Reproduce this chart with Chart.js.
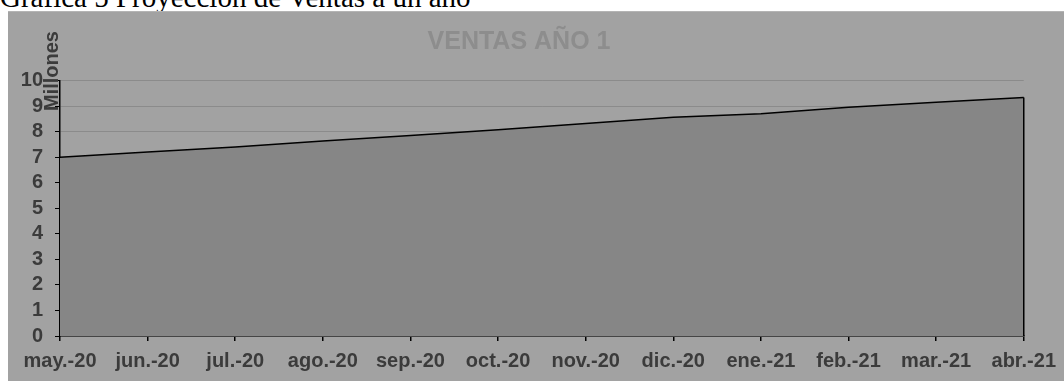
<!DOCTYPE html>
<html lang="es">
<head>
<meta charset="utf-8">
<title>Proyección de Ventas</title>
<script src="https://cdn.jsdelivr.net/npm/chart.js@4.4.1/dist/chart.umd.min.js"></script>
<style>
  html, body { margin: 0; padding: 0; background: #ffffff; overflow: hidden; }
  body { width: 1064px; height: 381px; position: relative; }
  .caption {
    position: absolute; left: 0; top: -17px;
    font-family: "Liberation Serif", "Times New Roman", serif;
    font-size: 29px; line-height: 29px; color: #000; white-space: nowrap;
  }
  .box {
    position: absolute; left: 8px; top: 11px; width: 1056px; height: 370px;
    background: #a2a2a2; border-top: 1px solid #b4b4b4; box-sizing: border-box;
  }
</style>
</head>
<body>
<div class="caption">Gráfica 5 Proyección de Ventas a un año</div>
<div class="box"><canvas id="ventas"></canvas></div>
<script>
// Ventas mensuales proyectadas (millones)
const meses = ['may.-20', 'jun.-20', 'jul.-20', 'ago.-20', 'sep.-20', 'oct.-20',
               'nov.-20', 'dic.-20', 'ene.-21', 'feb.-21', 'mar.-21', 'abr.-21'];
const ventas = [7.0, 7.2, 7.4, 7.63, 7.85, 8.07, 8.32, 8.56, 8.7, 8.95, 9.15, 9.33];
const ticksY = [0, 1, 2, 3, 4, 5, 6, 7, 8, 9, 10];

const textoEje = '#3b3b3b';
const fuente = '"Liberation Sans", Arial, sans-serif';

// Cierra el área con un trazo vertical en el último mes y rotula la unidad del eje
const bordeArea = {
  id: 'bordeArea',
  afterDatasetsDraw(chart) {
    const meta = chart.getDatasetMeta(0);
    const ult = meta.data[meta.data.length - 1];
    const base = chart.scales.y.getPixelForValue(0);
    const ctx = chart.ctx;
    ctx.save();
    ctx.strokeStyle = '#000';
    ctx.lineWidth = 1.5;
    ctx.beginPath();
    ctx.moveTo(ult.x, ult.y);
    ctx.lineTo(ult.x, base);
    ctx.stroke();
    ctx.restore();
  },
  afterDraw(chart) {
    const ctx = chart.ctx;
    const y = chart.scales.y;
    ctx.save();
    ctx.translate(y.right - 8, y.getPixelForValue(10.37));
    ctx.rotate(-Math.PI / 2);
    ctx.font = 'bold 20px ' + fuente;
    ctx.fillStyle = textoEje;
    ctx.textAlign = 'center';
    ctx.textBaseline = 'middle';
    ctx.fillText('Millones', 0, 0);
    ctx.restore();
  }
};

new Chart(document.getElementById('ventas'), {
  type: 'line',
  data: {
    labels: meses,
    datasets: [{
      label: 'Ventas',
      data: ventas,
      borderColor: '#000000',
      borderWidth: 1.5,
      backgroundColor: '#868686',
      fill: 'origin',
      tension: 0,
      pointRadius: 0,
      pointHoverRadius: 0
    }]
  },
  options: {
    responsive: true,
    maintainAspectRatio: false,
    animation: false,
    layout: { padding: { left: 0, right: 34, top: 0, bottom: 0 } },
    plugins: {
      legend: { display: false },
      tooltip: { enabled: false },
      title: {
        display: true,
        text: 'VENTAS AÑO 1',
        color: '#8d8d8d',
        font: { family: fuente, size: 25, weight: 'bold' },
        padding: { top: 15, bottom: 23.5 }
      }
    },
    scales: {
      x: {
        type: 'category',
        offset: false,
        afterFit(scale) { scale.height = 45; },
        grid: { display: true, drawOnChartArea: false, drawTicks: true, tickLength: 5, tickColor: '#000', lineWidth: 1.5 },
        border: { display: true, color: '#000', width: 1.5 },
        ticks: {
          color: textoEje,
          font: { family: fuente, size: 20, weight: 'bold' },
          padding: 8,
          maxRotation: 0,
          autoSkip: false
        }
      },
      y: {
        min: 0,
        max: 10,
        afterFit(scale) { scale.width = 52; },
        afterBuildTicks(scale) { scale.ticks = ticksY.map(v => ({ value: v })); },
        grid: { color: '#8b8b8b', lineWidth: 1, tickLength: 5, tickColor: '#000' },
        border: { display: true, color: '#000', width: 1.5 },
        ticks: {
          color: textoEje,
          font: { family: fuente, size: 20, weight: 'bold' },
          padding: 12,
          autoSkip: false
        }
      }
    }
  },
  plugins: [bordeArea]
});
</script>
</body>
</html>
